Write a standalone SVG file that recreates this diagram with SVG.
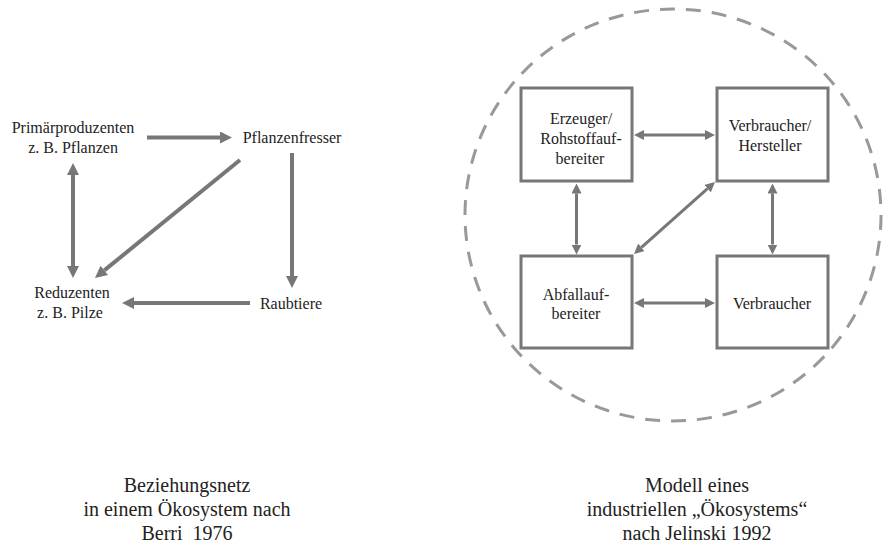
<svg xmlns="http://www.w3.org/2000/svg" width="886" height="547" viewBox="0 0 886 547">
  <style>
    .lbl { font-family: "Liberation Serif", "Times New Roman", "DejaVu Serif", serif; font-size: 16px; fill: #222; text-anchor: middle; }
    .cap { font-family: "Liberation Serif", "Times New Roman", "DejaVu Serif", serif; font-size: 20px; fill: #222; text-anchor: middle; }
    .box { fill: #fff; stroke: #777; stroke-width: 3; }
    .thick { stroke: #777; stroke-width: 4; fill: none; }
    .thin { stroke: #777; stroke-width: 3; fill: none; }
    .ring { fill: none; stroke: #999; stroke-width: 3; stroke-dasharray: 15 11; }
  </style>
  <defs>
    <marker id="headL" viewBox="0 0 12 12" refX="0" refY="6" markerWidth="12" markerHeight="12" markerUnits="userSpaceOnUse" orient="auto-start-reverse">
      <path d="M0,0 L12,6 L0,12 z" fill="#777"/>
    </marker>
    <marker id="headS" viewBox="0 0 10 10" refX="0" refY="5" markerWidth="10" markerHeight="10" markerUnits="userSpaceOnUse" orient="auto-start-reverse">
      <path d="M0,0 L10,5 L0,10 z" fill="#777"/>
    </marker>
  </defs>

  <rect width="886" height="547" fill="#fff"/>

  <!-- Left: food web -->
  <g id="primaerproduzenten">
    <text class="lbl" x="73" y="133">Primärproduzenten</text>
    <text class="lbl" x="73" y="153">z. B. Pflanzen</text>
  </g>
  <g id="pflanzenfresser">
    <text class="lbl" x="292" y="143">Pflanzenfresser</text>
  </g>
  <g id="reduzenten">
    <text class="lbl" x="72" y="298">Reduzenten</text>
    <text class="lbl" x="70" y="318">z. B. Pilze</text>
  </g>
  <g id="raubtiere">
    <text class="lbl" x="291" y="309">Raubtiere</text>
  </g>

  <g id="food-web-links">
    <path class="thick" d="M147,137.5 H220" marker-end="url(#headL)"/>
    <path class="thick" d="M73,175 V266" marker-start="url(#headL)" marker-end="url(#headL)"/>
    <path class="thick" d="M240,160 L104.3,270.4" marker-end="url(#headL)"/>
    <path class="thick" d="M292,153 V276" marker-end="url(#headL)"/>
    <path class="thick" d="M250,303 H134" marker-end="url(#headL)"/>
  </g>

  <!-- Right: industrial ecosystem -->
  <ellipse class="ring" cx="673" cy="215" rx="208" ry="206"/>

  <g id="erzeuger">
    <rect class="box" x="521" y="88" width="111" height="93"/>
    <text class="lbl" x="581" y="124">Erzeuger/</text>
    <text class="lbl" x="581" y="144">Rohstoffauf-</text>
    <text class="lbl" x="580" y="164">bereiter</text>
  </g>
  <g id="hersteller">
    <rect class="box" x="717" y="88" width="111" height="93"/>
    <text class="lbl" x="770" y="131">Verbraucher/</text>
    <text class="lbl" x="770" y="151">Hersteller</text>
  </g>
  <g id="abfallaufbereiter">
    <rect class="box" x="521" y="256" width="111" height="92"/>
    <text class="lbl" x="576" y="300">Abfallauf-</text>
    <text class="lbl" x="576" y="319">bereiter</text>
  </g>
  <g id="verbraucher">
    <rect class="box" x="717" y="256" width="111" height="92"/>
    <text class="lbl" x="772" y="309">Verbraucher</text>
  </g>

  <g id="industry-links">
    <path class="thin" d="M644,135 H705" marker-start="url(#headS)" marker-end="url(#headS)"/>
    <path class="thin" d="M576.5,193.5 V244.5" marker-start="url(#headS)" marker-end="url(#headS)"/>
    <path class="thin" d="M772.5,193.5 V244.5" marker-start="url(#headS)" marker-end="url(#headS)"/>
    <path class="thin" d="M644,303 H705" marker-start="url(#headS)" marker-end="url(#headS)"/>
    <path class="thin" d="M641.5,247.4 L707.5,188.6" marker-start="url(#headS)" marker-end="url(#headS)"/>
  </g>

  <!-- Captions -->
  <g id="caption-left">
    <text class="cap" x="187" y="492">Beziehungsnetz</text>
    <text class="cap" x="187" y="516">in einem Ökosystem nach</text>
    <text class="cap" x="187" y="540" xml:space="preserve">Berri  1976</text>
  </g>
  <g id="caption-right">
    <text class="cap" x="697" y="492">Modell eines</text>
    <text class="cap" x="697" y="516">industriellen „Ökosystems“</text>
    <text class="cap" x="697" y="540">nach Jelinski 1992</text>
  </g>
</svg>
